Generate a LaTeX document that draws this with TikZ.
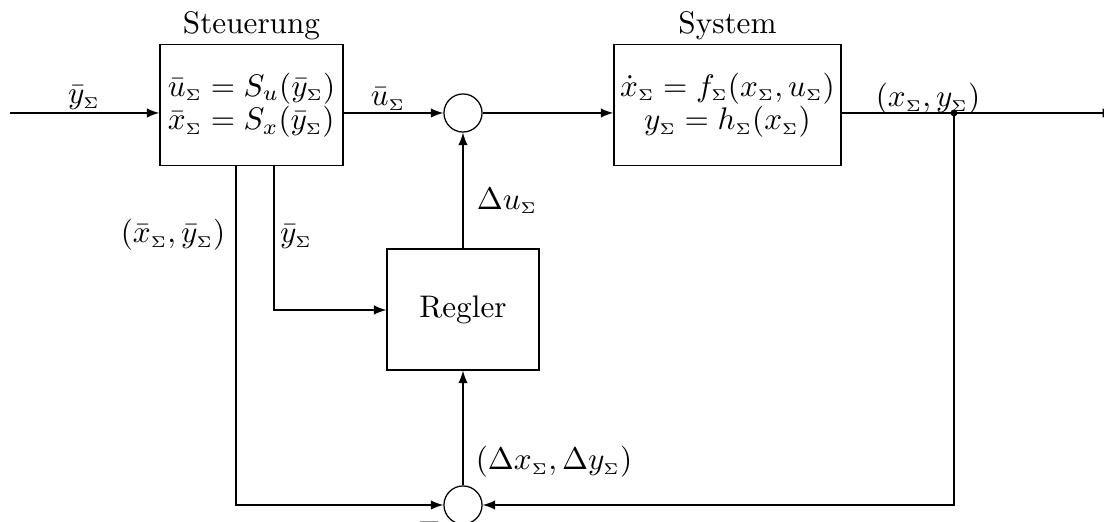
\documentclass[tikz,border=0pt]{standalone}
\usetikzlibrary{arrows}
\newcommand\Sg{{\scriptscriptstyle\Sigma}}
\begin{document}
\begin{tikzpicture}[x=0.3205pt,y=-0.3205pt,
  blk/.style={draw, rectangle, minimum width=#1, minimum height=39pt, inner sep=2pt},
  sumc/.style={draw, circle, minimum size=12.2pt, inner sep=0pt},
  conn/.style={-latex},
  lbl/.style={inner sep=0pt}]
\useasboundingbox (0,0) rectangle (1104,522);
% blocks
\node[blk=58.7pt, align=left] (st) at (251.5,105)
  {$\bar u_\Sg = S_u(\bar y_\Sg)$\\[-1.4pt]$\bar x_\Sg = S_x(\bar y_\Sg)$};
\node[anchor=south, inner sep=1pt] (stl) at (st.north) {Steuerung};
\node[blk=72.8pt, align=center] (sys) at (727.5,105)
  {$\dot x_\Sg = f_\Sg(x_\Sg,u_\Sg)$\\[-1.4pt]$y_\Sg = h_\Sg(x_\Sg)$};
\node[anchor=south, inner sep=1pt] (sysl) at (sys.north) {System};
\node[blk=48.7pt, minimum height=38.8pt] (reg) at (463,309.5) {Regler};
\node[sumc] (sum1) at (463,113) {};
\node[sumc] (sum2) at (463,505) {};
% coordinates
\coordinate (in) at (10,113);
\coordinate (out) at (1115,113);
\coordinate (dot) at (954,113);
\coordinate (yb) at (274,310);
\coordinate (xb) at (236,505);
% connectors
\draw[conn] (in) -- (st.west |- in);
\draw[conn] (st.east |- sum1) -- (sum1.west);
\draw[conn] (sum1.east) -- (sys.west |- sum1);
\draw[conn] (sys.east |- sum1) -- (dot) -- (out);
\draw[conn] (reg.north) -- (sum1.south);
\draw[conn] (st.south -| yb) -- (yb) -- (yb -| reg.west);
\draw[conn] (st.south -| xb) -- (xb) -- (sum2.west);
\draw[conn] (dot) -- (dot |- sum2) -- (sum2.east);
\draw[conn] (sum2.north) -- (reg.south);
\fill (dot) circle (1.1pt);
% labels
\node[lbl] (l1) at (84,98) {$\bar y_\Sg$};
\node[lbl] (l2) at (388,99) {$\bar u_\Sg$};
\node[lbl] (l3) at (928,99) {$(x_\Sg,y_\Sg)$};
\node[lbl] (l4) at (507,201) {$\Delta u_\Sg$};
\node[lbl] (l5) at (173,235) {$(\bar x_\Sg,\bar y_\Sg)$};
\node[lbl] (l6) at (296,237) {$\bar y_\Sg$};
\node[lbl] (l7) at (554,462) {$(\Delta x_\Sg,\Delta y_\Sg)$};
\node[lbl] (l8) at (430,523) {$-$};
\end{tikzpicture}
\end{document}
